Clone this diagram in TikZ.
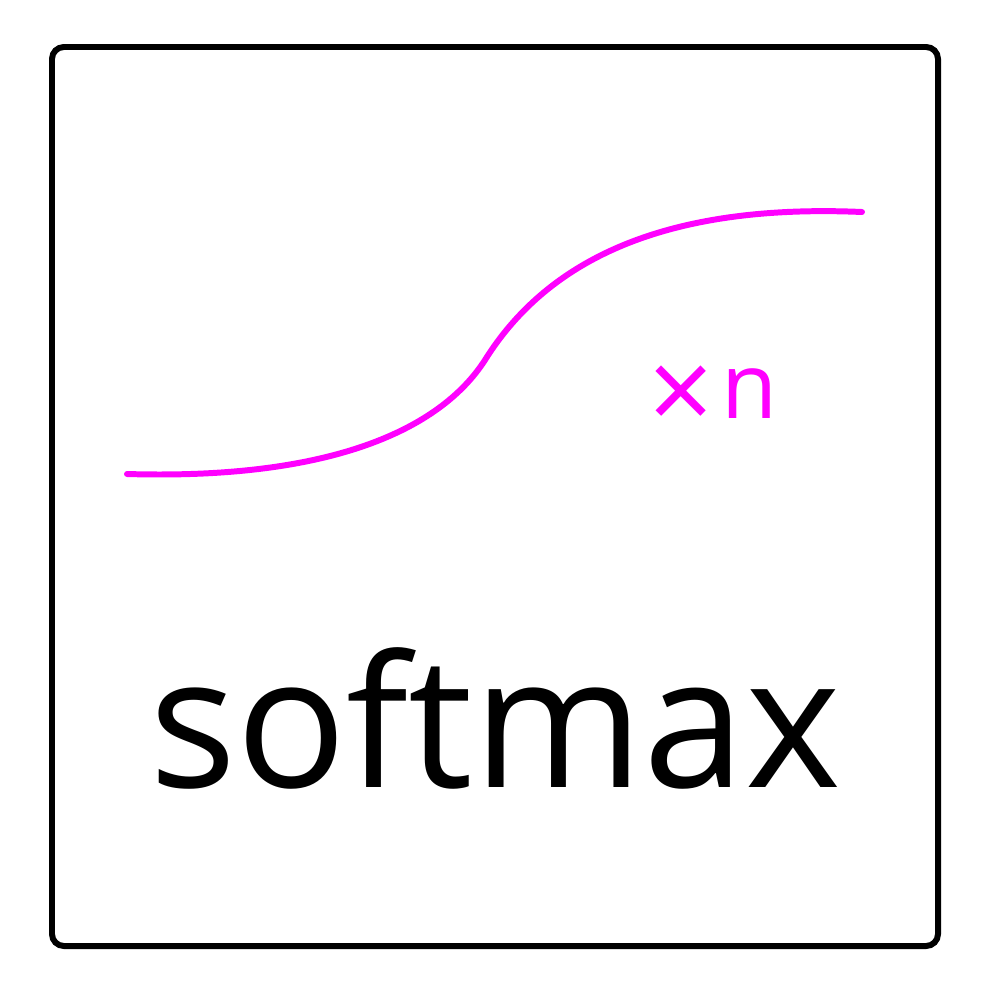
\documentclass[tikz,border=0pt]{standalone}
\usepackage{fontspec}
\setmainfont{Open Sans}
\usepackage{xcolor}
\usetikzlibrary{positioning}
\definecolor{curvamag}{RGB}{255,0,255}

\begin{document}
\begin{tikzpicture}[x=0.01cm, y=-0.01cm]
  \useasboundingbox (0,0) rectangle (1000,1000);
  \draw[line width=1.7pt, rounded corners=3.4pt] (52,47) rectangle (938,946);
  % duas metades da curva, com o canto leve no ponto de junção
  \draw[curvamag, line width=1.7pt, line cap=round]
    (127,474) .. controls (330,480) and (440,430) .. (485,360)
              .. controls (560,240) and (700,205) .. (862,212);
  \node[curvamag, font=\fontsize{26}{30}\selectfont, anchor=base, inner sep=0pt] (vezes) at (713,418)
    {\raisebox{-3.7pt}{\fontsize{32.5}{36}\selectfont ×}\hspace{2pt}n};
  \node[font=\fontsize{52}{60}\selectfont, anchor=base, inner sep=0pt] (rotulo) at (495,787) {softmax};
\end{tikzpicture}
\end{document}
